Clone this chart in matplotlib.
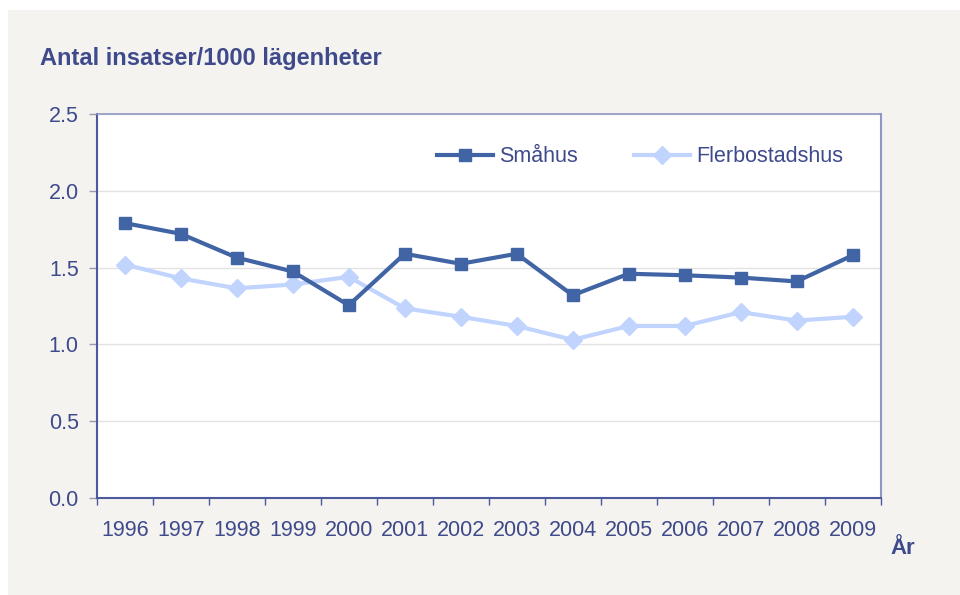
import matplotlib
matplotlib.use("Agg")
import matplotlib.pyplot as plt
from matplotlib.patches import Rectangle
import numpy as np

plt.rcParams['font.family'] = ['Liberation Sans', 'DejaVu Sans']

years = ['1996', '1997', '1998', '1999', '2000', '2001', '2002', '2003',
         '2004', '2005', '2006', '2007', '2008', '2009']
smahus = [1.79, 1.72, 1.565, 1.475, 1.255, 1.59, 1.525, 1.59,
          1.32, 1.46, 1.45, 1.435, 1.41, 1.58]
flerbostadshus = [1.52, 1.43, 1.365, 1.39, 1.44, 1.235, 1.18, 1.12,
                  1.03, 1.12, 1.12, 1.21, 1.155, 1.18]
yticks = [0.0, 0.5, 1.0, 1.5, 2.0, 2.5]

text_c = '#3F4A8C'
axis_c = '#4A5A9C'
c_sma = '#4164A4'
c_fler = '#C0D4FE'

W, H = 960, 595
fig = plt.figure(figsize=(W/100, H/100), dpi=100)
fig.patch.set_facecolor('white')
fig.patches.append(Rectangle((8/W, 0), 1 - 8/W, 1 - 10/H, transform=fig.transFigure,
                             facecolor='#F4F3EF', edgecolor='none', zorder=-10))

ax = fig.add_axes([96.7/W, 1 - 498/H, (880.7 - 96.7)/W, (498 - 114)/H])
ax.set_facecolor('white')

x = np.arange(len(years))
ax.plot(x, smahus, color=c_sma, lw=3, marker='s', ms=9, label='Småhus', zorder=4)
ax.plot(x, flerbostadshus, color=c_fler, lw=3, marker='D', ms=9, label='Flerbostadshus', zorder=3)

ax.set_xlim(-0.5, len(years) - 0.5)
ax.set_ylim(0, 2.5)
ax.set_yticks(yticks)
ax.set_yticklabels([f'{v:.1f}' for v in yticks])
ax.yaxis.grid(True, color='#E3E3E3', lw=1)
ax.set_axisbelow(True)

ax.set_xticks(x)
ax.set_xticklabels(years)
ax.set_xticks(np.arange(len(years) + 1) - 0.5, minor=True)
ax.tick_params(axis='x', which='major', length=0, pad=16, labelsize=15.5, labelcolor=text_c)
ax.tick_params(axis='x', which='minor', length=5, width=1, color=axis_c, direction='out')
ax.tick_params(axis='y', length=6, width=1, color='#9A9AAE', pad=7, labelsize=15.5, labelcolor=text_c)

for s in ['left', 'bottom']:
    ax.spines[s].set_color(axis_c)
    ax.spines[s].set_linewidth(1.5)
ax.spines['top'].set_color('#8E98C4')
ax.spines['top'].set_linewidth(1.2)
ax.spines['right'].set_color('#8E98C4')
ax.spines['right'].set_linewidth(1.5)

leg = ax.legend(loc='center left', bbox_to_anchor=((437 - 96.7) / (880.7 - 96.7), (498 - 157) / 384),
                ncol=2, frameon=False, borderaxespad=0, borderpad=0,
                fontsize=15.5, handlelength=2.6, columnspacing=2.6, handletextpad=0.3)
for t in leg.get_texts():
    t.set_color(text_c)

fig.text(40/W, 1 - 58/H, 'Antal insatser/1000 lägenheter', fontsize=17, fontweight='bold',
         color=text_c, ha='left', va='center')
fig.text(903/W, 1 - 548/H, 'År', fontsize=16, fontweight='bold', color=text_c,
         ha='center', va='center')

fig.savefig('out.png', dpi=100, facecolor=fig.get_facecolor())
